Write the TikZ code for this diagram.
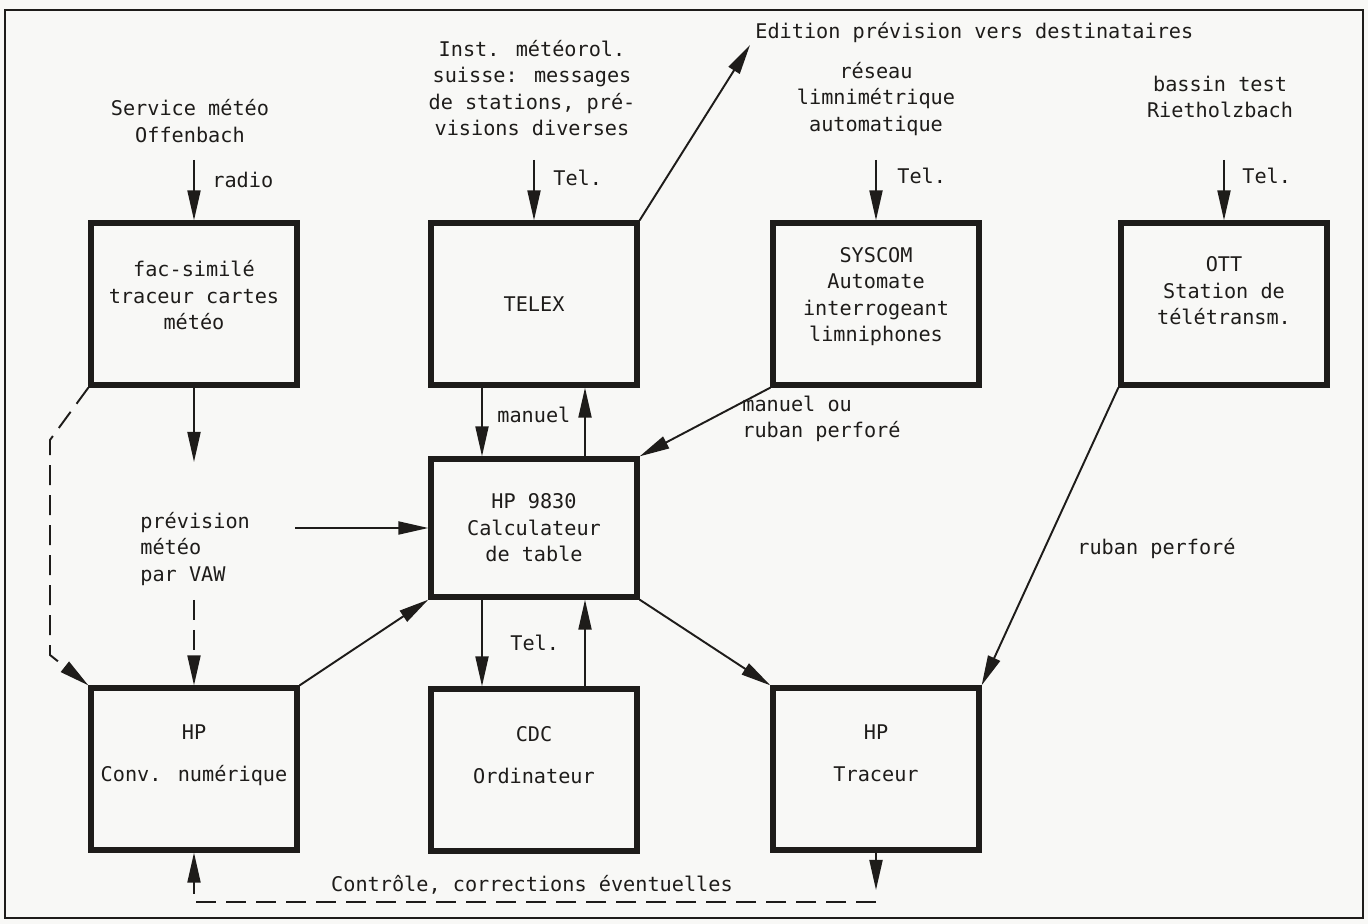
\documentclass[tikz,border=0pt]{standalone}
\usepackage{fontspec}
\setmainfont{DejaVu Sans Mono}
\usetikzlibrary{arrows.meta}
\definecolor{fond}{RGB}{248,248,246}
\definecolor{encre}{RGB}{30,28,26}
\newcommand{\basfond}[1]{\rule[-#1]{0pt}{#1}}
\tikzset{
  bloc/.style={draw=encre, line width=3pt, minimum width=41.2mm,
    minimum height=32.4mm, align=center, inner sep=0pt},
  texte/.style={align=center, inner sep=0pt},
  etiq/.style={anchor=west, inner sep=0pt},
  fleche/.style={draw=encre, line width=1.1pt, -{Triangle[length=6mm,width=2.6mm]}},
  tirets/.style={fleche, dash pattern=on 4mm off 2mm},
}
\begin{document}
\begin{tikzpicture}[x=0.2mm, y=-0.2mm, text=encre,
  every node/.append style={font=\fontsize{11.5}{15}\selectfont}]
  \fill[fond] (0,0) rectangle (1368,924);
  \useasboundingbox (0,0) rectangle (1368,924);
  \draw[encre, line width=0.8pt] (5,10) rectangle (1363,918);

  \node[bloc] (fac) at (194,304) {fac-similé\\traceur cartes\\météo\basfond{10pt}};
  \node[bloc] (telex) at (534,304) {TELEX};
  \node[bloc] (syscom) at (876,304) {SYSCOM\\Automate\\interrogeant\\limniphones\basfond{11pt}};
  \node[bloc] (ott) at (1224,304) {OTT\\Station de\\télétransm.\basfond{15pt}};
  \node[bloc, minimum height=27.6mm] (hp) at (534,528) {HP 9830\\Calculateur\\de table};
  \node[bloc] (conv) at (194,769) {HP\\[9pt]Conv. numérique\basfond{18pt}};
  \node[bloc] (cdc) at (534,770) {CDC\\[9pt]Ordinateur\basfond{17pt}};
  \node[bloc] (traceur) at (876,769) {HP\\[9pt]Traceur\basfond{18pt}};

  \node[texte] (offen) at (190,121) {Service météo\\Offenbach};
  \node[texte] (inst) at (532,88) {Inst. météorol.\\suisse: messages\\de stations, pré-\\visions diverses};
  \node[etiq] (edit) at (755,33) {Edition prévision vers destinataires};
  \node[texte] (reseau) at (876,99) {réseau\\limnimétrique\\automatique};
  \node[texte] (bassin) at (1220,97) {bassin test\\Rietholzbach};
  \node[texte, align=left, anchor=west] (vaw) at (140,549) {prévision\\météo\\par VAW};

  \node[etiq] (lradio) at (212,180) {radio};
  \node[etiq] (ltel1) at (553,178) {Tel.};
  \node[etiq] (ltel2) at (897,176) {Tel.};
  \node[etiq] (ltel3) at (1242,176) {Tel.};
  \node[etiq] (lmanuel) at (497,415) {manuel};
  \node[etiq, align=left] (lruban1) at (742,419) {manuel ou\\ruban perforé};
  \node[etiq] (lruban2) at (1077,549) {ruban perforé};
  \node[etiq] (ltel4) at (510,643) {Tel.};
  \node[texte] (lctrl) at (532,885) {Contrôle, corrections éventuelles};

  \coordinate (in1) at (194,160);
  \coordinate (in2) at (534,160);
  \coordinate (in3) at (876,160);
  \coordinate (in4) at (1224,160);
  \coordinate (edbout) at (750,45);
  \coordinate (facbas) at (194,462);
  \coordinate (vawg) at (295,528);
  \coordinate (vawb) at (194,600);
  \coordinate (g1) at (50,440);
  \coordinate (g2) at (50,655);
  \coordinate (c1) at (876,890);
  \coordinate (c2) at (876,902);
  \coordinate (c3) at (194,902);

  \draw[fleche] (in1) -- (fac.north);
  \draw[fleche] (in2) -- (telex.north);
  \draw[fleche] (in3) -- (syscom.north);
  \draw[fleche] (in4) -- (ott.north);
  \draw[fleche] (telex.north east) -- (edbout);
  \draw[fleche] (fac.south) -- (facbas);
  \draw[fleche] (vawg) -- (hp.west);
  \draw[tirets] (vawb) -- (conv.north);
  \draw[tirets] (fac.south west) -- (g1) -- (g2) -- (conv.north west);
  \draw[fleche] (482,0 |- telex.south) -- (482,0 |- hp.north);
  \draw[fleche] (585,0 |- hp.north) -- (585,0 |- telex.south);
  \draw[fleche] (482,0 |- hp.south) -- (482,0 |- cdc.north);
  \draw[fleche] (585,0 |- cdc.north) -- (585,0 |- hp.south);
  \draw[fleche] (syscom.south west) -- (hp.north east);
  \draw[fleche] (conv.north east) -- (hp.south west);
  \draw[fleche] (hp.south east) -- (traceur.north west);
  \draw[fleche] (ott.south west) -- (traceur.north east);
  \draw[tirets] (traceur.south) -- (c1);
  \draw[tirets] (c2) -- (c3) -- (conv.south);
\end{tikzpicture}
\end{document}
